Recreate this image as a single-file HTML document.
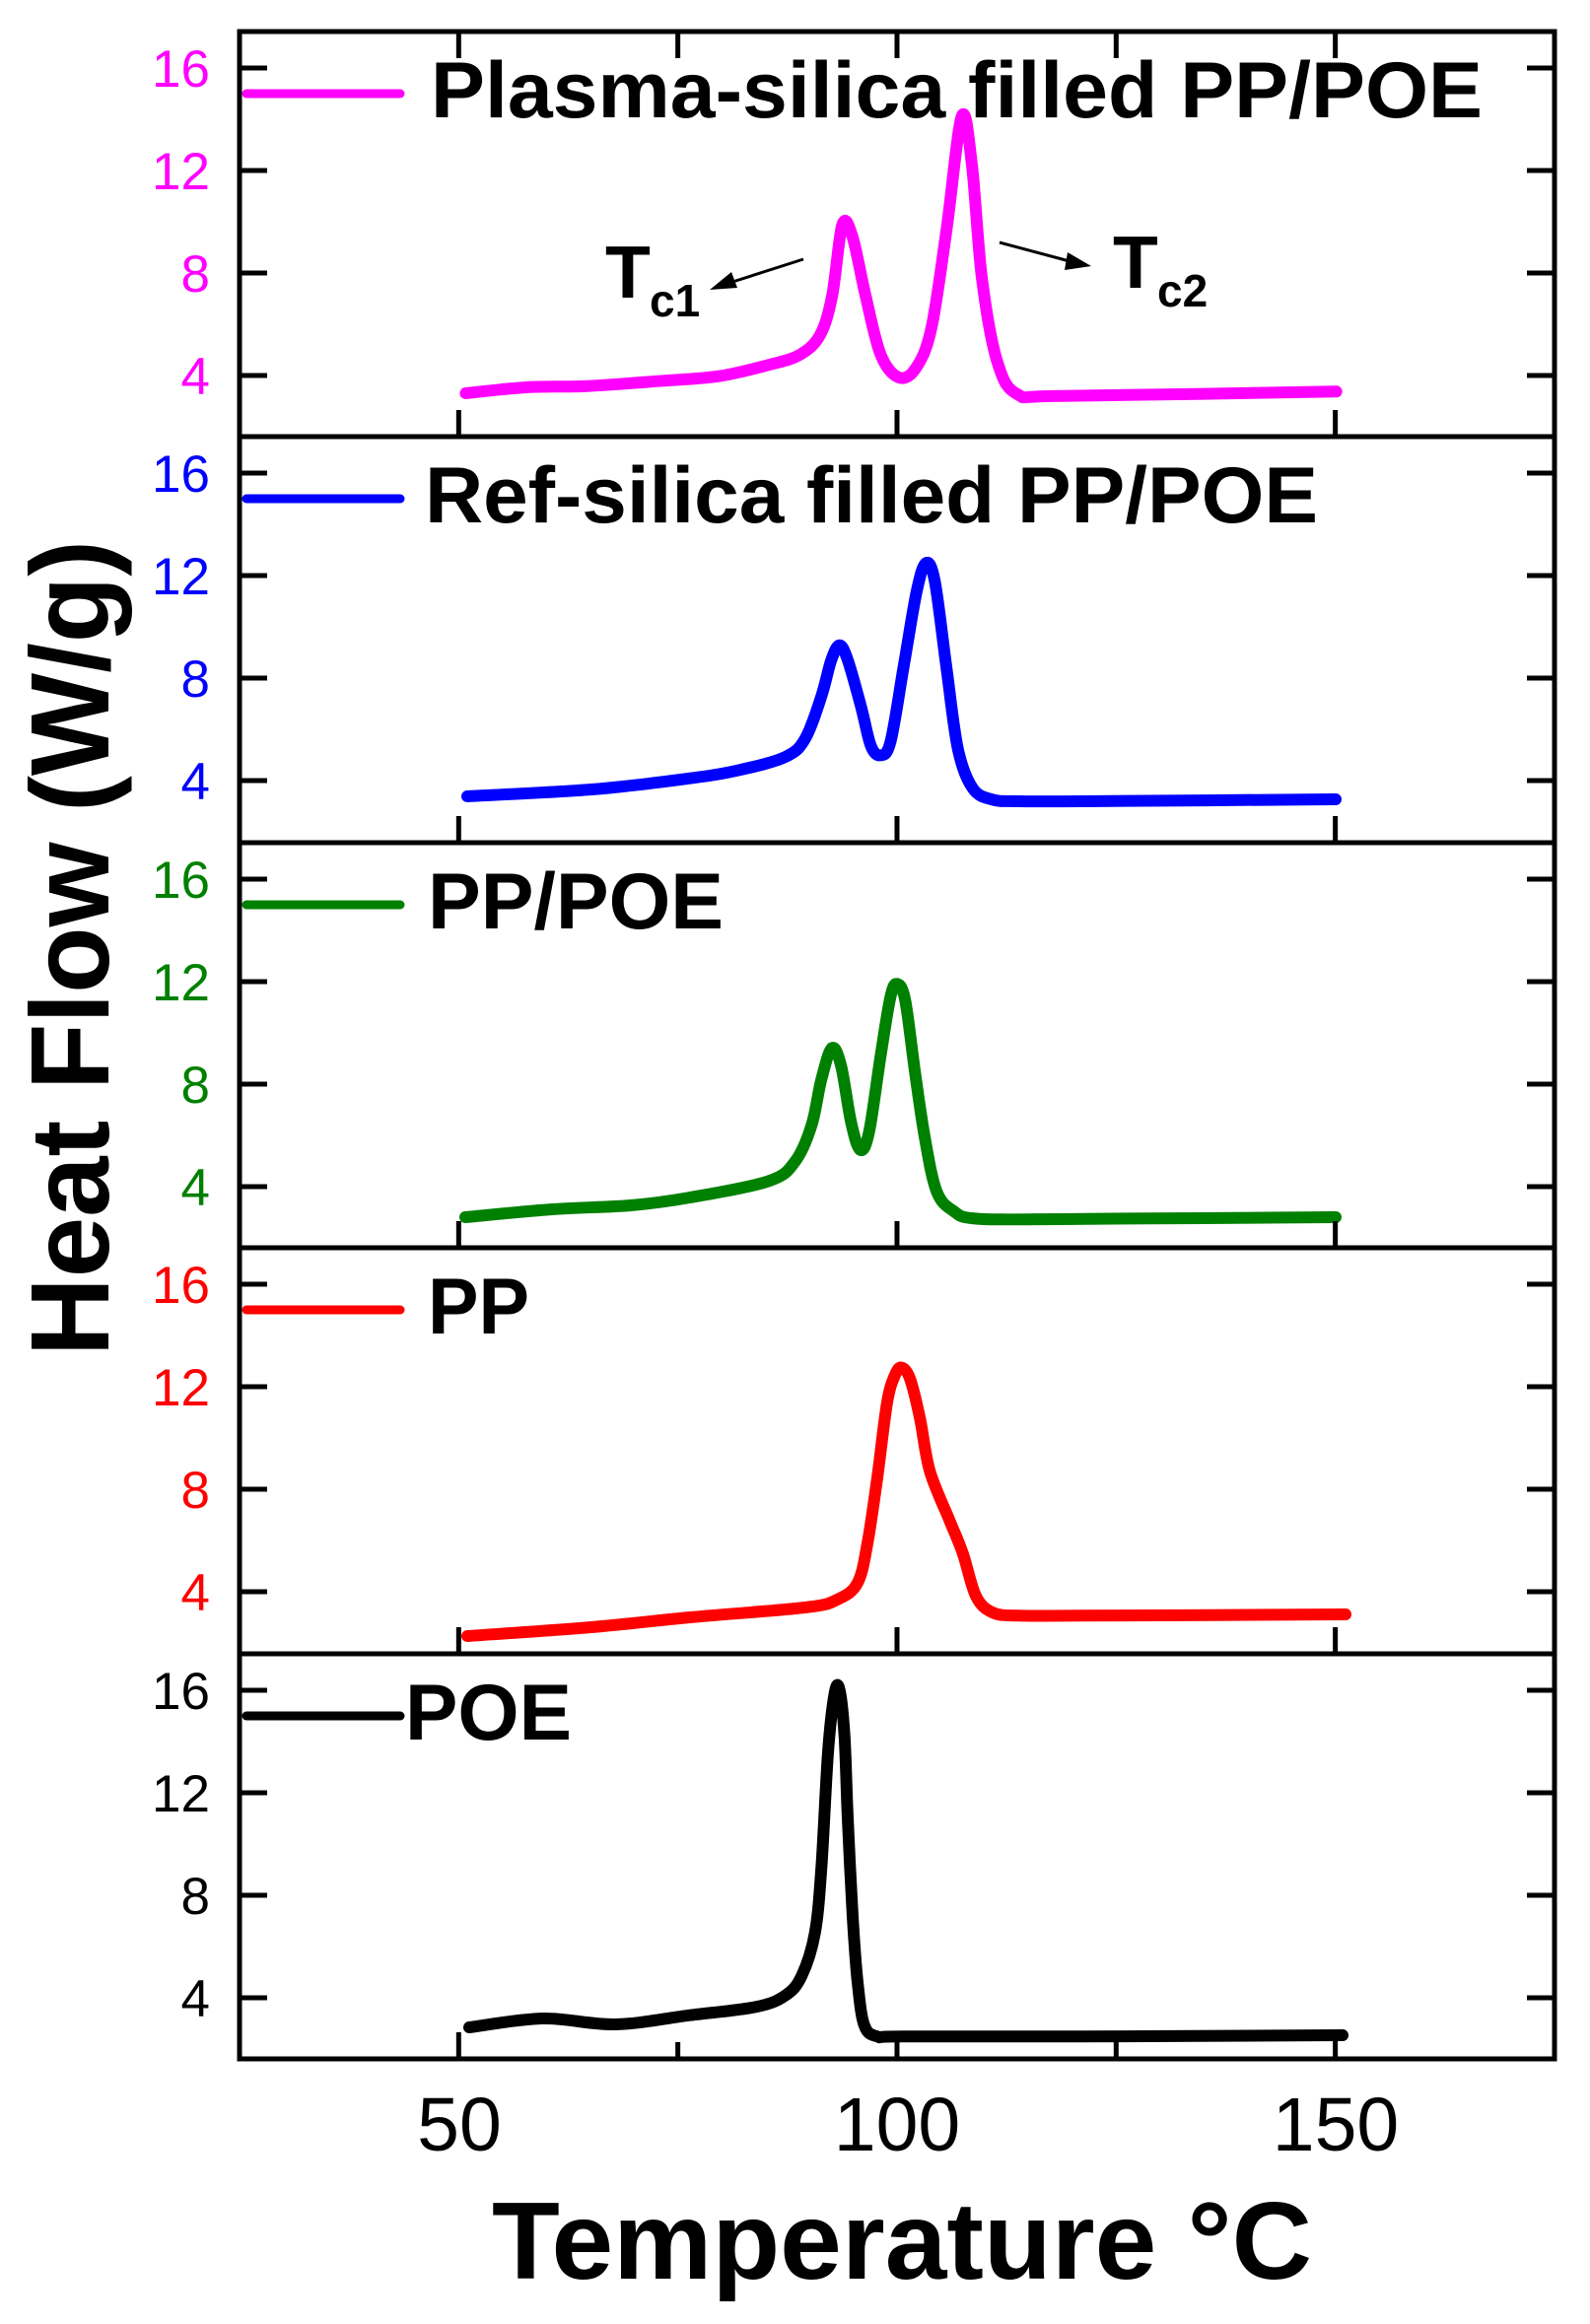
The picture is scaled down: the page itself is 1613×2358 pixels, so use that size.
<!DOCTYPE html>
<html><head><meta charset="utf-8"><style>html,body{margin:0;padding:0;background:#fff}svg{display:block}</style></head>
<body>
<svg id="s" width="1613" height="2358" viewBox="0 0 1613 2358" xmlns="http://www.w3.org/2000/svg" font-family="Liberation Sans, Arial, sans-serif">
<g id="curves" fill="none" stroke-width="12" stroke-linejoin="round" stroke-linecap="round"></g>
<g id="axes" stroke="#000" stroke-width="5" fill="none"></g>
<g id="labels"></g>
<text x="915" y="2312" font-size="111" font-weight="bold" text-anchor="middle" textLength="832" lengthAdjust="spacingAndGlyphs">Temperature °C</text>
<text transform="translate(110,962) rotate(-90)" font-size="113" font-weight="bold" text-anchor="middle" textLength="828" lengthAdjust="spacingAndGlyphs">Heat Flow (W/g)</text>
<text x="466" y="2182" font-size="77" text-anchor="middle">50</text>
<text x="910" y="2182" font-size="77" text-anchor="middle">100</text>
<text x="1355" y="2182" font-size="77" text-anchor="middle">150</text>
<text x="614" y="302" font-size="75" font-weight="bold">T</text>
<text x="659" y="321" font-size="46" font-weight="bold">c1</text>
<text x="1129" y="292" font-size="75" font-weight="bold">T</text>
<text x="1174" y="311" font-size="46" font-weight="bold">c2</text>
<line x1="815" y1="263" x2="740" y2="287" stroke="#000" stroke-width="3"/>
<polygon points="720,294 742,276 748,292" fill="#000"/>
<line x1="1014" y1="246" x2="1085" y2="265" stroke="#000" stroke-width="3"/>
<polygon points="1107,270 1083,256 1080,274" fill="#000"/>
</svg>
<script>
(function(){
var NS="http://www.w3.org/2000/svg";
function el(t,a,p,txt){var e=document.createElementNS(NS,t);for(var k in a)e.setAttribute(k,a[k]);if(txt!=null)e.textContent=txt;p.appendChild(e);return e;}
var tops=[32,443,855,1266,1678],bot=2089,L=243,R=1577;
var cols=["#FF00FF","#0000FF","#008000","#FF0000","#000000"];
var names=["Plasma-silica filled PP/POE","Ref-silica filled PP/POE","PP/POE","PP","POE"];
var tx=[437,431,434,434,411],tw=[1067,906,300,103,169];
var ax=document.getElementById("axes"),lb=document.getElementById("labels"),cv=document.getElementById("curves");
el("rect",{x:L,y:32,width:R-L,height:bot-32},ax);
function X(T){return L+(T-25)*8.893;}
for(var i=0;i<5;i++){
  var t=tops[i],b=(i<4?tops[i+1]:bot);
  if(i>0) el("line",{x1:L,y1:t,x2:R,y2:t},ax);
  [16,12,8,4].forEach(function(v){
    var y=t+37+(16-v)*26;
    el("line",{x1:L,y1:y,x2:L+28,y2:y},ax);
    el("line",{x1:R,y1:y,x2:R-28,y2:y},ax);
    el("text",{x:213,y:y+19,"font-size":53,"text-anchor":"end",fill:cols[i]},lb,String(v));
  });
  [50,100,150].forEach(function(T){el("line",{x1:X(T),y1:b,x2:X(T),y2:b-27},ax);});
  if(i==4){[75,125].forEach(function(T){el("line",{x1:X(T),y1:b,x2:X(T),y2:b-17},ax);});}
  if(i==0){[50,75,100,125,150].forEach(function(T){el("line",{x1:X(T),y1:32,x2:X(T),y2:59},ax);});}
  el("line",{x1:250,y1:t+63,x2:406,y2:t+63,stroke:cols[i],"stroke-width":9,"stroke-linecap":"round"},lb);
  el("text",{x:tx[i],y:t+87,"font-size":81,"font-weight":"bold",textLength:tw[i],lengthAdjust:"spacingAndGlyphs"},lb,names[i]);
}
var zx=[460,520,580,650,710,760,790,810,822,832,842,855,870,888,905,920,935,950,960,970,985,1005,1050,1320];
var P=[
 {o:0,x:zx.map(function(v){return v*1.027;}),
  y:[399,393,391.7,386.7,381.7,370,360,340,300,228,240,300,360,383,373,333,233,118,166.7,283,366.7,400,401.7,397.3]},
 {o:443,x:[474,600,700,750,796.7,816.7,833.3,843.3,851.7,860,873.3,883.3,892.7,903.3,916.7,930,939.3,948.3,960,971.7,986.7,1006.7,1033.3,1100,1355],
  y:[365,358,346.7,338.3,325,306.7,263.3,226.7,211.7,226.7,273.3,313.3,323.3,310,233.3,156.7,128.3,146.7,233.3,316.7,356.7,368.3,370,370,368]},
 {o:855,x:[472,560,640,700,780,806.7,823.3,833.3,844,853.3,863.3,872.7,881.7,893.3,903.3,910,918.3,928.3,938.3,950,966.7,993.3,1100,1355],
  y:[380,372,368,360,343.3,323.3,286.7,240,208.3,226.7,283.3,311.7,293.3,216.7,156.7,143.3,160,233.3,300,353.3,373.3,381.7,381.7,380]},
 {o:1266,x:[474,600,700,816.7,850,870,880,890,900,908.3,915,923.3,933.3,943.3,963.3,976.7,990,1006.7,1033.3,1100,1365],
  y:[394,385,375,365,356.7,340,300,233.3,156.7,128.3,121.7,133.3,173.3,226.7,276.7,310,353.3,370,373.3,373.3,372]},
 {o:1678,x:[476,551,624,700,766.7,796.7,813.3,826.7,833.3,840,846.7,851.7,856.7,860,865,870,876.7,890,916.7,1100,1362],
  y:[379,370,376,366.7,358.3,346.7,326.7,283.3,216.7,100,40,36.7,83.3,166.7,266.7,333.3,376.7,388.3,388.3,388.3,387]}
];
P.forEach(function(c,i){
  var pts=c.x.map(function(x,j){return [x,c.y[j]+c.o];});
  var d="M"+pts[0][0]+","+pts[0][1];
  for(var j=0;j<pts.length-1;j++){
    var p0=pts[j>0?j-1:j],p1=pts[j],p2=pts[j+1],p3=pts[j+2<pts.length?j+2:j+1];
    var c1=[p1[0]+(p2[0]-p0[0])/6,p1[1]+(p2[1]-p0[1])/6],c2=[p2[0]-(p3[0]-p1[0])/6,p2[1]-(p3[1]-p1[1])/6];
    d+=" C"+c1[0].toFixed(1)+","+c1[1].toFixed(1)+" "+c2[0].toFixed(1)+","+c2[1].toFixed(1)+" "+p2[0]+","+p2[1];
  }
  el("path",{d:d,stroke:cols[i]},cv);
});
})();
</script>
</body></html>
